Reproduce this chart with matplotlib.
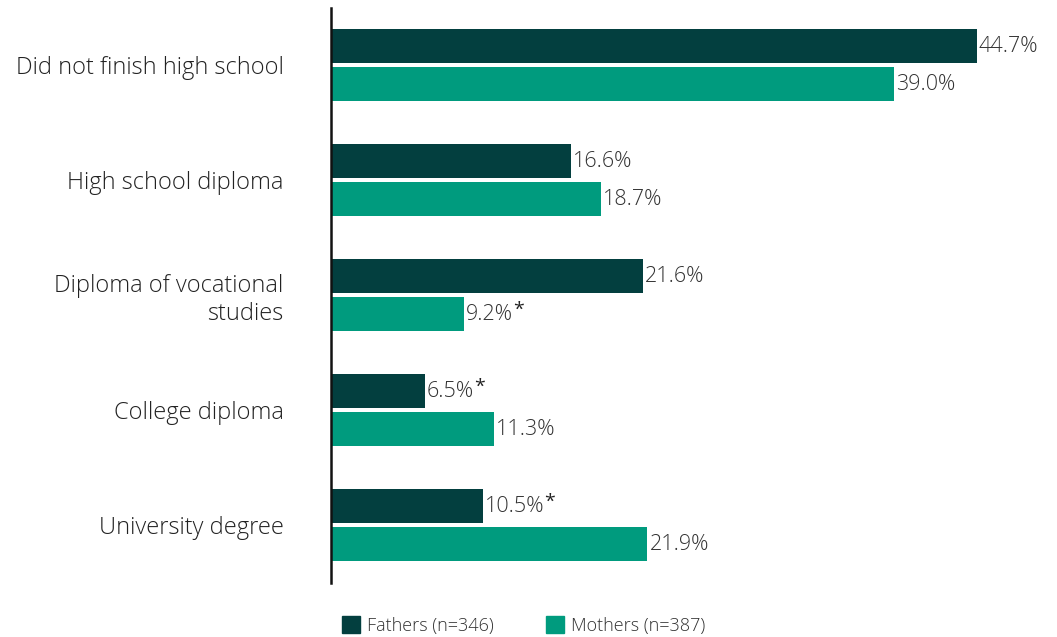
import numpy as np
import matplotlib.pyplot as plt
from matplotlib.patches import Patch

plt.rcParams['font.family'] = ['Open Sans', 'DejaVu Sans']
plt.rcParams['font.weight'] = 'light'

categories = ['Did not finish high school', 'High school diploma',
              'Diploma of vocational\nstudies', 'College diploma', 'University degree']
fathers = [44.7, 16.6, 21.6, 6.5, 10.5]
mothers = [39.0, 18.7, 9.2, 11.3, 21.9]
fathers_flag = ['', '', '', '*', '*']
mothers_flag = ['', '', '*', '', '']
series_names = ['Fathers (n=346)', 'Mothers (n=387)']

dark = '#033f3f'
teal = '#009b7e'

fig = plt.figure(figsize=(10.57, 6.37), dpi=100)
ax = fig.add_axes([0.313, 0.085, 0.6835, 0.903])

y = np.arange(len(categories))
h = 0.296
off = 0.165
ax.barh(y - off, fathers, height=h, color=dark)
ax.barh(y + off, mothers, height=h, color=teal)


def label(v, yy, flag):
    t = ax.text(v + 0.15, yy, f'{v:.1f}%', va='center', ha='left', fontsize=15.5, color='#333333')
    if flag:
        # raised asterisk right after the value
        ax.annotate(flag, xy=(1, 0.72), xycoords=t, xytext=(0, 0), textcoords='offset points',
                    va='center', ha='left', fontsize=14, color='#222222', fontweight='normal')


for yi, v, f in zip(y, fathers, fathers_flag):
    label(v, yi - off, f)
for yi, v, f in zip(y, mothers, mothers_flag):
    label(v, yi + off, f)

ax.set_xlim(0, 50)
ax.set_ylim(4.5, -0.5)
ax.set_yticks(y)
ax.set_yticklabels(categories, fontsize=17, color='#222222', ha='right')
ax.tick_params(axis='y', length=0, pad=34)
ax.set_xticks([])
for s in ['top', 'right', 'bottom']:
    ax.spines[s].set_visible(False)
ax.spines['left'].set_linewidth(1.8)
ax.spines['left'].set_color('#111111')

handles = [Patch(color=dark), Patch(color=teal)]
fig.legend(handles, series_names, loc='center left', bbox_to_anchor=(0.308, 0.018),
           ncol=2, frameon=False, fontsize=13, handlelength=1.0, handleheight=1.0,
           handletextpad=0.4, columnspacing=2.9, labelcolor='#333333')

fig.savefig('out.png', dpi=100)
